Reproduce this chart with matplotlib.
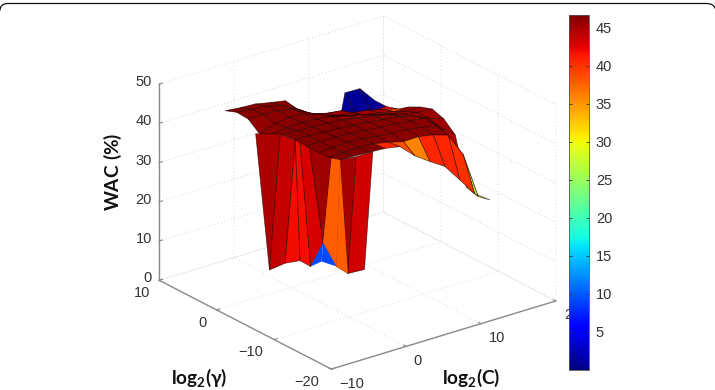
import numpy as np
import matplotlib
matplotlib.use("Agg")
import matplotlib.pyplot as plt
from matplotlib.cm import ScalarMappable
from matplotlib.colors import Normalize
from matplotlib.patches import PathPatch
from matplotlib.path import Path
from matplotlib.transforms import IdentityTransform
from mpl_toolkits.mplot3d import proj3d

plt.rcParams["font.family"] = ["Liberation Sans", "DejaVu Sans"]
plt.rcParams["mathtext.fontset"] = "custom"
plt.rcParams["mathtext.bf"] = "Lato:bold"
plt.rcParams["mathtext.rm"] = "Lato:bold"
plt.rcParams["mathtext.it"] = "Lato:bold"

# Grid search axes
log2_c = [-5, -3, -1, 1, 3, 5, 7, 9, 11, 13, 15]
log2_gamma = [-15, -13, -11, -9, -7, -5, -3, -1, 1, 3, 5]

# WAC (%) per gamma row (low to high) and C column
wac = [
    [46.6, 46.5, 46.3, 46.1, 45.4, 41.9, 39.3, 36.9, 32.3, 27.6, 24.9],
    [45.8, 45.9, 46.0, 45.8, 45.0, 44.0, 44.1, 43.4, 42.2, 36.0, 24.2],
    [45.3, 45.6, 45.8, 45.6, 45.0, 44.6, 44.4, 43.8, 43.0, 38.0, 25.0],
    [45.6, 45.6, 45.6, 45.4, 45.0, 44.6, 44.4, 44.0, 43.4, 40.0, 36.9],
    [45.8, 45.6, 45.4, 45.2, 44.8, 44.4, 44.0, 43.6, 42.5, 40.8, 39.5],
    [45.5, 45.4, 45.2, 45.0, 44.6, 44.0, 43.4, 42.5, 41.5, 40.8, 40.5],
    [44.2, 44.6, 44.8, 44.6, 44.0, 43.0, 42.2, 41.0, 40.0, 39.6, 39.5],
    [42.7, 44.2, 44.6, 44.3, 43.0, 41.5, 40.5, 39.5, 38.8, 38.0, 38.0],
    [45.0, 45.0, 44.8, 44.0, 42.0, 40.0, 39.0, 38.5, 38.0, 37.0, 36.0],
    [45.2, 44.8, 44.4, 43.5, 41.5, 39.0, 38.0, 37.5, 35.0, 35.0, 35.1],
    [44.1, 43.7, 43.5, 42.7, 42.0, 37.9, 36.2, 20.0, 39.4, 39.3, 35.1],
]

# Cell colour values that differ from the plateau shade: (gamma row, C column, value)
cell_overrides = [
    (0, 3, 40.5), (0, 4, 38.5), (0, 5, 36.0), (0, 6, 40.5), (0, 7, 40.5),
    (0, 8, 40.0), (0, 9, 27.0), (1, 8, 43.0), (1, 9, 34.0), (2, 9, 44.5),
    (9, 7, 1.0), (9, 8, 1.0), (9, 9, 1.0), (8, 8, 1.0), (8, 9, 42.5), (7, 9, 38.0),
]

# Front skirt under the surface edge: upper and lower vertex rows
skirt_top_c = [-5, -5, -5, -5, -5, -5, -5, -5, -5, -2.84, -0.63]
skirt_top_gamma = [-0.3, -4.6, -7.2, -7.2, -8.0, -9.7, -13.5, -15, -15, -15, -15]
skirt_top_wac = [42.2, 45.4, 45.7, 45.7, 45.9, 45.6, 45.9, 46.6, 46.6, 46.2, 46.2]
skirt_low_c = [-3] * 11
skirt_low_gamma = [-0.1, -0.1, -2.84, -5.43, -7.28, -9.45, -9.45, -11.76, -13.76, -13.76, -16.64]
skirt_low_wac = [6.2, 6.2, 10.0, 12.6, 12.5, 20.2, 20.2, 15.9, 15.6, 15.6, 18.8]
skirt_values = [44.8, 43.8, 41.8, 41.8, 43.1, 45.3, 37.9, 37.9, 45.0, 43.3]

# Blue notch at the foot of the skirt
notch_gamma = [[-7.28, -9.45, -11.76], [-7.28, -9.17, -11.76]]
notch_wac = [[12.5, 20.2, 15.9], [12.5, 15.2, 15.9]]
notch_value = 9.3

x_ticks = [-10, 0, 10, 20]
y_ticks = [-20, -10, 0, 10]
z_ticks = [0, 10, 20, 30, 40, 50]
bar_ticks = [5, 10, 15, 20, 25, 30, 35, 40, 45]

W, H = 715, 390
fig = plt.figure(figsize=(W / 100, H / 100), dpi=100, facecolor="white")

side = 390
ax = fig.add_axes([157.2 / W, -2.8 / H, side / W, side / H], projection="3d", proj_type="ortho")
ax.patch.set_alpha(0)
ax.view_init(elev=23.3, azim=-127.5)
ax.set_box_aspect((1, 1, 0.755), zoom=1.129)
ax.computed_zorder = False
ax.set_xlim(-10, 20)
ax.set_ylim(-20, 10)
ax.set_zlim(0, 50)
ax.set_xticks(x_ticks)
ax.set_yticks(y_ticks)
ax.set_zticks(z_ticks)
ax.set_xticklabels([])
ax.set_yticklabels([])
ax.set_zticklabels([])

for axis, grid_colour in ((ax.xaxis, "#dcdcdc"), (ax.yaxis, "#dcdcdc"), (ax.zaxis, "#d2d2d2")):
    axis.set_pane_color((1, 1, 1, 0))
    axis.pane.set_edgecolor((1, 1, 1, 0))
    axis.line.set_color("#8a8a8a")
    axis.line.set_linewidth(1.0)
    axis._axinfo["grid"].update(color=grid_colour, linestyle=(0, (1, 2.5)), linewidth=0.7)
    axis._axinfo["tick"].update(inward_factor=0.0, outward_factor=0.18, linewidth={True: 0.8, False: 0.8})
    axis._axinfo["tick"]["color"] = "#8a8a8a"
ax.tick_params(colors="#8a8a8a")

cmap = plt.get_cmap("jet")
norm = Normalize(vmin=0, vmax=46.7)
edge = (0.12, 0, 0, 0.7)

X, Y = np.meshgrid(log2_c, log2_gamma)
Z = np.array(wac)
# The plateau keeps a narrow band of deep reds
C = 44.5 + (Z - 36.0) * 0.2
for row, col, val in cell_overrides:
    C[row, col] = val
ax.plot_surface(X, Y, Z, facecolors=cmap(norm(C)), rstride=1, cstride=1, shade=False,
                linewidth=0.5, edgecolor=edge, zorder=3)

skirt_x = np.array([skirt_top_c, skirt_low_c], dtype=float)
skirt_y = np.array([skirt_top_gamma, skirt_low_gamma], dtype=float)
skirt_z = np.array([skirt_top_wac, skirt_low_wac], dtype=float)
skirt_c = np.array([skirt_values + [0.0], [0.0] * 11])
ax.plot_surface(skirt_x, skirt_y, skirt_z, facecolors=cmap(norm(skirt_c)), rstride=1, cstride=1,
                shade=False, linewidth=0.5, edgecolor=edge, zorder=4)

# The two orange facets read as one panel, so repaint them without the seam
ax.plot_surface(skirt_x[:, 6:9], skirt_y[:, 6:9], skirt_z[:, 6:9], facecolors=cmap(norm(skirt_c[:, 6:9])),
                rstride=1, cstride=1, shade=False, linewidth=0.0, zorder=4.5)

notch_y = np.array(notch_gamma)
ax.plot_surface(np.full_like(notch_y, -3.0), notch_y, np.array(notch_wac),
                facecolors=cmap(norm(np.full_like(notch_y, notch_value))), rstride=1, cstride=1,
                shade=False, linewidth=0.0, zorder=5)


def tick_text(x, y, z, text, dx, dy, ha="center"):
    px, py, _ = proj3d.proj_transform(x, y, z, ax.get_proj())
    ax.annotate(text, (px, py), xytext=(dx, dy), textcoords="offset pixels", ha=ha, va="center",
                fontsize=10.5, color="#333333", annotation_clip=False)


def signed(v):
    return str(v).replace("-", "\u2212")


x_offsets = [(20, -15), (11, -15), (16, -14), (17, -14)]
for v, (dx, dy) in zip(x_ticks, x_offsets):
    tick_text(v, -20, 0, signed(v), dx, dy)
y_offsets = [(-25, -13), (-23, -13), (-14, -13), (-17, -13)]
for v, (dx, dy) in zip(y_ticks, y_offsets):
    tick_text(-10, v, 0, signed(v), dx, dy)
for v in z_ticks:
    tick_text(-10, 10, v, signed(v), -7, 2, ha="right")

cax = fig.add_axes([568.7 / W, (H - 370) / H, 20.3 / W, 355 / H])
bar = fig.colorbar(ScalarMappable(norm=norm, cmap=cmap), cax=cax, ticks=bar_ticks)
bar.outline.set_edgecolor("#555555")
bar.outline.set_linewidth(0.6)
cax.tick_params(axis="y", left=True, right=True, direction="in", length=2.5, width=0.6,
                color="#333333", labelsize=10.5, labelcolor="#333333", pad=5)

fig.text(113 / W, (H - 172) / H, r"$\mathbf{WAC\ (\%)}$", rotation=90, ha="center", va="center",
         fontsize=13.7, color="#111111")
fig.text(199.5 / W, (H - 378) / H, r"$\mathbf{log_2(\gamma)}$", ha="center", va="center",
         fontsize=13.7, color="#111111")
fig.text(471 / W, (H - 378) / H, r"$\mathbf{log_2(C)}$", ha="center", va="center",
         fontsize=13.7, color="#111111")

# Rounded top edge of the panel frame
top = H - 3.5
frame = Path(
    [(0, top - 7), (0, top), (8, top), (706, top), (714, top), (715, top - 5)],
    [Path.MOVETO, Path.CURVE3, Path.CURVE3, Path.LINETO, Path.CURVE3, Path.CURVE3],
)
fig.add_artist(PathPatch(frame, transform=IdentityTransform(), fc="none", ec="#111111", lw=0.9))

fig.savefig("out.png", dpi=100, facecolor="white")
